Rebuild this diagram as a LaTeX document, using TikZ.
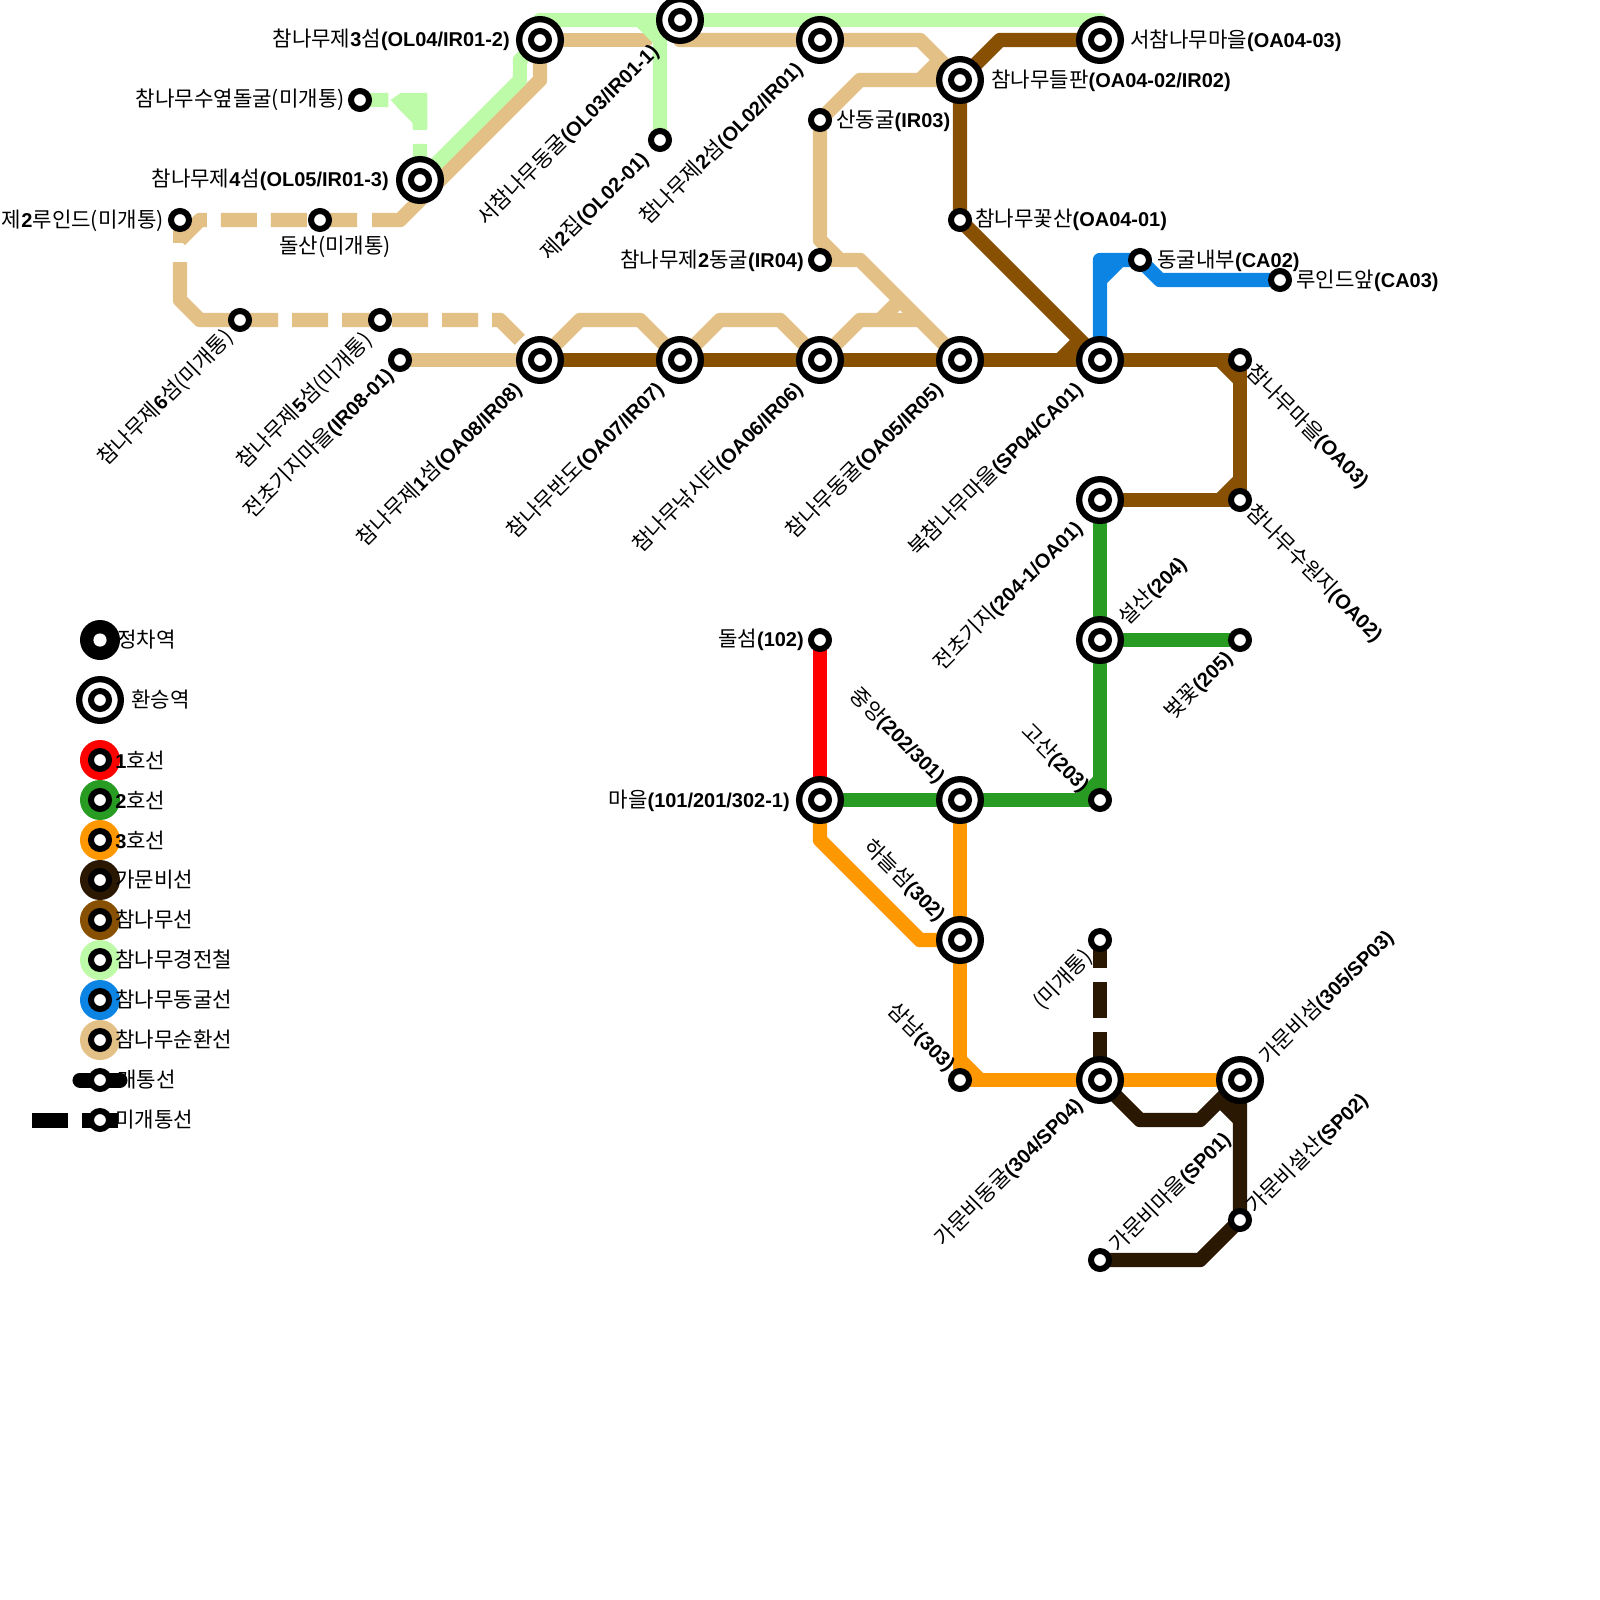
\documentclass[tikz,border=0pt]{standalone}
\usepackage{fontspec}
\setmainfont[Scale=1.06]{Noto Sans CJK KR}
\newfontfamily\latfont{Liberation Sans}
\newcommand{\bl}[1]{{\latfont\bfseries #1}}
\usetikzlibrary{backgrounds}
\definecolor{lineone}{HTML}{FF0000}
\definecolor{linetwo}{HTML}{289B22}
\definecolor{linethree}{HTML}{FF9800}
\definecolor{linegamun}{HTML}{2A1803}
\definecolor{linetree}{HTML}{875003}
\definecolor{linelight}{HTML}{BDFBA8}
\definecolor{linecave}{HTML}{0C84E4}
\definecolor{linering}{HTML}{E3C086}
\tikzset{
  stn/.style={circle,draw=black,fill=white,line width=0.15cm,minimum size=0.45cm,inner sep=0pt,outer sep=0pt},
  xfer/.style={circle,draw=black,fill=white,line width=0.157cm,minimum size=1.0425cm,inner sep=0pt,outer sep=0pt},
  keydisc/.style={circle,fill=#1,minimum size=1cm,inner sep=0pt,outer sep=0pt},
  track/.style={line width=0.36cm,line join=round},
  gapped/.style={track,dash pattern=on 0.9cm off 0.35cm},
  lbl/.style={inner sep=0pt,yshift=-0.05cm,font=\fontsize{14.2}{16}\selectfont},
  keylbl/.style={inner sep=0pt,anchor=west,font=\fontsize{14.2}{16}\selectfont},
  uplbl/.style={lbl,anchor=east,rotate=45,xshift=-0.1cm},
  downlbl/.style={lbl,anchor=east,rotate=-45,xshift=-0.075cm}
}
\begin{document}
\begin{tikzpicture}[x=0.025cm,y=-0.025cm]
  \useasboundingbox (0,0) rectangle (1600,1600);
  % Interchange stations
  \foreach \n/\x/\y in {ol04/540/40,ol03/680/20,ol02/820/40,oa0403/1100/40,oa0402/960/80,ol05/420/180,
      oa08/540/360,oa07/680/360,oa06/820/360,oa05/960/360,sp04/1100/360,oa01/1100/500,st204/1100/640,
      st101/820/800,st202/960/800,st302/960/940,st304/1100/1080,st305/1240/1080} {
    \node[xfer] (\n) at (\x,\y) {};
    \node[stn] (\n hub) at (\x,\y) {};
  }
  % Plain stations
  \foreach \n/\x/\y in {soyeop/360/100,ol0201/660/140,ir03/820/120,rouge/180/220,dolsan/320/220,oa0401/960/220,
      ir04/820/260,ca02/1140/260,ca03/1280/280,isle6/240/320,isle5/380/320,ir0801/400/360,oa03/1240/360,
      oa02/1240/500,st205/1240/640,st102/820/640,st203/1100/800,unopen/1100/940,st303/960/1080,
      sp02/1240/1220,sp01/1100/1260} {
    \node[stn] (\n) at (\x,\y) {};
  }
  \begin{pgfonlayer}{background}
    % Ring line
    \draw[track,linering,line cap=round] (ol04.center) -- (646,40);
    \draw[track,linering] (ol03.center) -- (680,40) -- (ol02.center) -- (920,40) -- (oa0402.center);
    \draw[track,linering] (ir03.center) -- (860,80) -- (oa0402.center);
    \draw[track,linering] (940,60) -- (920,80);
    \draw[track,linering] (ir03.center) -- (820,240) -- (840,260) -- (860,260) -- (oa05.center);
    \draw[track,linering] (ir04.center) -- (840,260);
    \draw[track,linering] (oa06.center) -- (860,320) -- (920,320);
    \draw[track,linering] (880,320) -- (900,300);
    \draw[track,linering] (oa08.center) -- (580,320) -- (640,320) -- (oa07.center) -- (720,320) -- (780,320) -- (oa06.center);
    \draw[track,linering] (ir0801.center) -- (oa08.center);
    \draw[track,linering] (ol04.center) -- (540,80) -- (400,220) -- (372,220);
    \draw[gapped,linering] (357,220) -- (200,220) -- (180,240);
    \draw[track,linering] (rouge.center) -- (180,243);
    \draw[track,linering] (180,262) -- (180,300) -- (200,320) -- (278,320);
    \draw[gapped,linering] (292,320) -- (500,320) -- (519.8,339.8);
    % Light rail
    \draw[track,linelight] (ol05.center) -- (520,80) -- (520,60) -- (ol04.center) -- (540,20) -- (640,20) -- (660,40) -- (ol0201.center);
    \draw[track,linelight] (640,20) -- (1100,20) -- (oa0403.center);
    \draw[gapped,linelight] (ol05.center) -- (420,120) -- (400,100) -- (soyeop.center);
    \fill[linelight] (390.6,100) -- (401,92.8) -- (427.3,92.8) -- (427.3,127) -- (412.7,127) -- (412.7,123) -- cycle;
    % Tree line
    \draw[track,linetree] (oa0403.center) -- (1000,40) -- (oa0402.center) -- (oa0401.center) -- (sp04.center);
    \draw[track,linetree] (oa08.center) -- (oa03.center) -- (oa02.center) -- (oa01.center);
    \draw[track,linetree] (1060,360) -- (1080,340);
    \draw[track,linetree] (1220,360) -- (1240,380);
    \draw[track,linetree] (1240,480) -- (1220,500);
    % Cave line
    \draw[track,linecave] (sp04.center) -- (1100,260) -- (ca02.center) -- (1160,280) -- (ca03.center);
    \draw[track,linecave] (1100,280) -- (1120,260);
    % Line 1
    \draw[track,lineone] (st102.center) -- (st101.center);
    % Line 2
    \draw[track,linetwo] (oa01.center) -- (st203.center) -- (st101.center);
    \draw[track,linetwo] (st204.center) -- (st205.center);
    \draw[track,linetwo] (1080,800) -- (1100,780);
    % Line 3
    \draw[track,linethree] (st101.center) -- (820,840) -- (920,940) -- (st302.center);
    \draw[track,linethree] (st202.center) -- (st303.center) -- (st305.center);
    \draw[track,linethree] (960,1060) -- (980,1080);
    % Gamun branch
    \draw[gapped,linegamun,dash phase=0.2cm] (unopen.center) -- (st304.center);
    \draw[track,linegamun] (st304.center) -- (1140,1120) -- (1200,1120) -- (st305.center) -- (sp02.center) -- (1200,1260) -- (sp01.center);
    \draw[track,linegamun] (1220,1100) -- (1240,1120);
  \end{pgfonlayer}
  % Labels ending at their station
  \node[lbl,anchor=east] (t3) at (510,38) {참나무제\bl{3}섬\bl{(OL04/IR01-2)}};
  \node[lbl,anchor=east] (tsoyeop) at (345,98) {참나무수옆돌굴(미개통)};
  \node[lbl,anchor=east] (t4) at (389,178) {참나무제\bl{4}섬\bl{(OL05/IR01-3)}};
  \node[lbl,anchor=east] (trouge) at (164,219) {제\bl{2}루인드(미개통)};
  \node[lbl,anchor=east] (tir04) at (804,259) {참나무제\bl{2}동굴\bl{(IR04)}};
  \node[lbl,anchor=east] (t102) at (804,638) {돌섬\bl{(102)}};
  \node[lbl,anchor=east] (t101) at (790,799) {마을\bl{(101/201/302-1)}};
  \node[lbl] (tdolsan) at (335,245) {돌산(미개통)};
  % Labels starting at their station
  \node[lbl,anchor=west] (toa0403) at (1130,39) {서참나무마을\bl{(OA04-03)}};
  \node[lbl,anchor=west] (toa0402) at (991,79) {참나무들판\bl{(OA04-02/IR02)}};
  \node[lbl,anchor=west] (tir03) at (836,119) {산동굴\bl{(IR03)}};
  \node[lbl,anchor=west] (toa0401) at (975,218) {참나무꽃산\bl{(OA04-01)}};
  \node[lbl,anchor=west] (tca02) at (1157,259) {동굴내부\bl{(CA02)}};
  \node[lbl,anchor=west] (tca03) at (1296,279) {루인드앞\bl{(CA03)}};
  % Labels rising to the right
  \foreach \n/\x/\y/\t in {tol03/658/43/{서참나무동굴\bl{(OL03/IR01-1)}},
      tol0201/648/151/{제\bl{2}집\bl{(OL02-01)}},
      tol02/802/61/{참나무제\bl{2}섬\bl{(OL02/IR01)}},
      tisle6/233/329/{참나무제\bl{6}섬(미개통)},
      tisle5/372/332/{참나무제\bl{5}섬(미개통)},
      tir0801/393/367/{전초기지마을\bl{(IR08-01)}},
      toa08/521/381/{참나무제\bl{1}섬\bl{(OA08/IR08)}},
      toa07/663/381/{참나무반도\bl{(OA07/IR07)}},
      toa06/802/381/{참나무낚시터\bl{(OA06/IR06)}},
      toa05/942/381/{참나무동굴\bl{(OA05/IR05)}},
      tsp04/1082/381/{북참나무마을\bl{(SP04/CA01)}},
      toa01/1082/520/{전초기지\bl{(204-1/OA01)}},
      t204/1186/556/{설산\bl{(204)}},
      t205/1232/650/{벚꽃\bl{(205)}},
      t304/1082/1097/{가문비동굴\bl{(304/SP04)}},
      tsp01/1230/1131/{가문비마을\bl{(SP01)}},
      tsp02/1367/1092/{가문비설산\bl{(SP02)}},
      t305/1393/929/{가문비섬\bl{(305/SP03)}},
      tunopen/1092/949/{(미개통)}} {
    \node[uplbl] (\n) at (\x,\y) {\t};
  }
  % Labels falling to the right
  \foreach \n/\x/\y/\t in {t202/944/780/{중앙\bl{(202/301)}},
      t203/1088/789/{고산\bl{(203)}},
      t302/944/918/{하늘섬\bl{(302)}},
      t303/954/1068/{삼남\bl{(303)}}} {
    \node[downlbl] (\n) at (\x,\y) {\t};
  }
  \node[lbl,anchor=west,rotate=-45] (toa03) at (1250,367) {참나무마을\bl{(OA03)}};
  \node[lbl,anchor=west,rotate=-45] (toa02) at (1250,507) {참나무수원지\bl{(OA02)}};
  % Legend
  \node[keydisc=black] (keystop) at (100,640) {};
  \node[keydisc=white,minimum size=0.33cm] (keyhole) at (100,640) {};
  \node[keylbl] (tstop) at (117,640) {정차역};
  \node[xfer] (keyxfer) at (100,700) {};
  \node[stn] (keyxferhub) at (100,700) {};
  \node[keylbl] (txfer) at (131,700) {환승역};
  \foreach \c/\y/\t in {lineone/760/{\bl{1}호선},linetwo/800/{\bl{2}호선},linethree/840/{\bl{3}호선},
      linegamun/880/가문비선,linetree/920/참나무선,linelight/960/참나무경전철,linecave/1000/참나무동굴선,
      linering/1040/참나무순환선} {
    \node[keydisc=\c] (key\c) at (100,\y) {};
    \node[stn] (hub\c) at (100,\y) {};
    \node[keylbl] (name\c) at (115,\y) {\t};
  }
  \coordinate (openl) at (80,1080);
  \coordinate (openr) at (120,1080);
  \draw[line width=0.375cm,line cap=round] (openl) -- (openr);
  \node[stn] (keyopen) at (100,1080) {};
  \node[keylbl] (topen) at (117,1080) {개통선};
  \coordinate (shuta) at (32,1120);
  \coordinate (shutb) at (118,1120);
  \draw[line width=0.375cm,dash pattern=on 0.9cm off 0.35cm] (shuta) -- (shutb);
  \node[stn] (keyshut) at (100,1120) {};
  \node[keylbl] (tshut) at (115,1120) {미개통선};
\end{tikzpicture}
\end{document}
